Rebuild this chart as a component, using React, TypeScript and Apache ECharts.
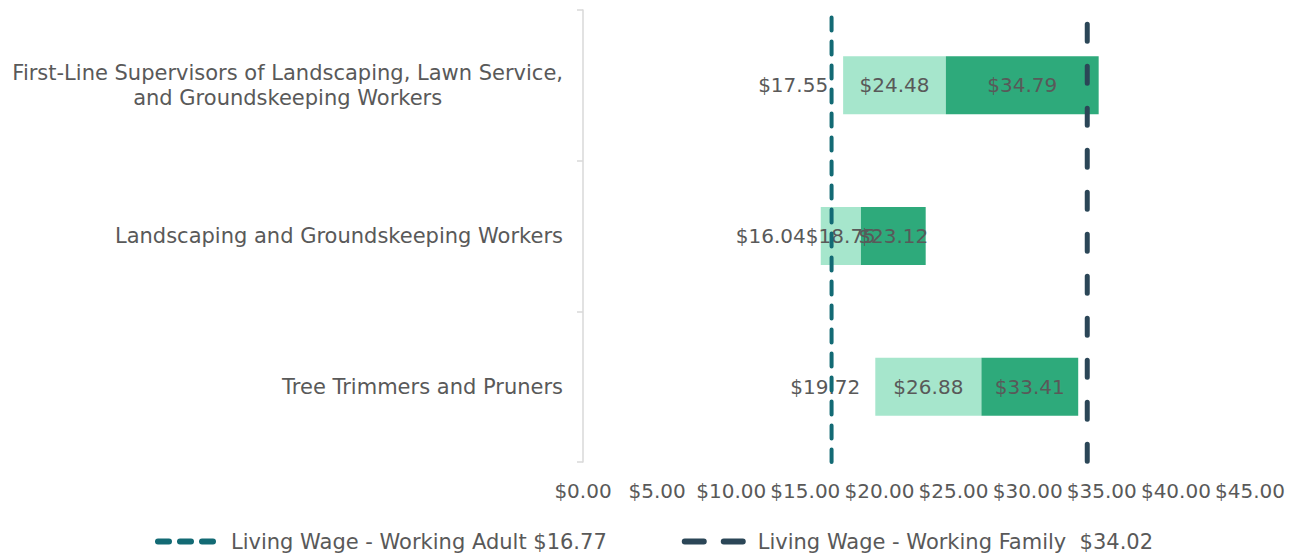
import React, { useEffect, useRef } from "react";
import * as echarts from "echarts";

const categories = [
  "First-Line Supervisors of Landscaping, Lawn Service,\nand Groundskeeping Workers",
  "Landscaping and Groundskeeping Workers",
  "Tree Trimmers and Pruners",
];
const lowWage = [17.55, 16.04, 19.72];
const medianWage = [24.48, 18.75, 26.88];
const highWage = [34.79, 23.12, 33.41];
const adultWage = 16.77;
const familyWage = 34.02;
const adultName = "Living Wage - Working Adult $16.77";
const familyName = "Living Wage - Working Family  $34.02";
const xTicks = { min: 0, max: 45, interval: 5 };

const FONT = "DejaVu Sans";
const TXT = "#595959";
const TEAL = "#136a74";
const SLATE = "#2b4657";

export default function App() {
  const ref = useRef<HTMLDivElement>(null);
  useEffect(() => {
    if (!ref.current) return;
    document.body.style.margin = "0";
    const chart = echarts.init(ref.current, undefined, { renderer: "svg" });
    const fmt = (v: number) => "$" + v.toFixed(2);
    const baseLbl = {
      show: true,
      color: TXT,
      fontFamily: FONT,
      fontSize: 20,
    };
    chart.setOption({
      animation: false,
      textStyle: { fontFamily: FONT },
      grid: { left: 583, right: 51, top: 10, bottom: 92, containLabel: false },
      legend: {
        bottom: -3,
        left: 150,
        data: [
          {
            name: adultName,
            itemStyle: { opacity: 0 },
            lineStyle: { color: TEAL, width: 6, type: [11, 11], cap: "round", dashOffset: 0 },
          },
          {
            name: familyName,
            itemStyle: { opacity: 0 },
            lineStyle: { color: SLATE, width: 6, type: [19, 20], cap: "round", dashOffset: 0 },
          },
        ],
        itemWidth: 60,
        itemHeight: 14,
        itemGap: 75,
        textStyle: { color: TXT, fontFamily: FONT, fontSize: 21, padding: [0, 0, 0, 8] },
      },
      xAxis: {
        type: "value",
        min: xTicks.min,
        max: xTicks.max,
        interval: xTicks.interval,
        axisLine: { show: false },
        axisTick: { show: false },
        splitLine: { show: false },
        axisLabel: {
          color: TXT,
          fontFamily: FONT,
          fontSize: 20,
          margin: 19,
          formatter: (v: number) => fmt(v),
        },
      },
      yAxis: [
        {
          type: "category",
          data: categories,
          inverse: true,
          axisLine: { show: true, lineStyle: { color: "#d9d9d9", width: 1.5 } },
          axisTick: { show: true, length: 6, lineStyle: { color: "#d9d9d9", width: 1.5 } },
          axisLabel: {
            margin: 20,
            color: TXT,
            fontFamily: FONT,
            fontSize: 21,
            lineHeight: 25,
            formatter: (v: string) =>
              v
                .split("\n")
                .map((l) => `{c|${l}}`)
                .join("\n"),
            rich: {
              c: { align: "center", color: TXT, fontFamily: FONT, fontSize: 21, lineHeight: 25 },
            },
          },
        },
        { type: "value", min: 0, max: 1, show: false },
      ],
      series: [
        {
          type: "bar",
          stack: "w",
          barWidth: 58,
          itemStyle: { color: "transparent" },
          label: {
            ...baseLbl,
            position: "insideRight",
            distance: 15,
            formatter: (p: any) => fmt(lowWage[p.dataIndex]),
          },
          data: lowWage,
          silent: true,
        },
        {
          type: "bar",
          stack: "w",
          barWidth: 58,
          itemStyle: { color: "#a6e6cc" },
          label: {
            ...baseLbl,
            position: "inside",
            formatter: (p: any) => fmt(medianWage[p.dataIndex]),
          },
          data: medianWage.map((m, i) => +(m - lowWage[i]).toFixed(2)),
        },
        {
          type: "bar",
          stack: "w",
          barWidth: 58,
          itemStyle: { color: "#2eaa7b" },
          label: {
            ...baseLbl,
            position: "inside",
            formatter: (p: any) => fmt(highWage[p.dataIndex]),
          },
          data: highWage.map((h, i) => +(h - medianWage[i]).toFixed(2)),
        },
        {
          name: adultName,
          type: "line",
          yAxisIndex: 1,
          symbol: "none",
          z: 10,
          color: TEAL,
          lineStyle: { color: TEAL, width: 4, type: [13, 11], cap: "round", dashOffset: -3 },
          data: [
            [adultWage, 0.99],
            [adultWage, 0],
          ],
        },
        {
          name: familyName,
          type: "line",
          yAxisIndex: 1,
          symbol: "none",
          z: 10,
          color: SLATE,
          lineStyle: { color: SLATE, width: 5, type: [17, 25], cap: "round", dashOffset: -3 },
          data: [
            [familyWage, 0.975],
            [familyWage, 0],
          ],
        },
      ],
    });
    return () => chart.dispose();
  }, []);
  return <div ref={ref} style={{ width: 1301, height: 554 }} />;
}
